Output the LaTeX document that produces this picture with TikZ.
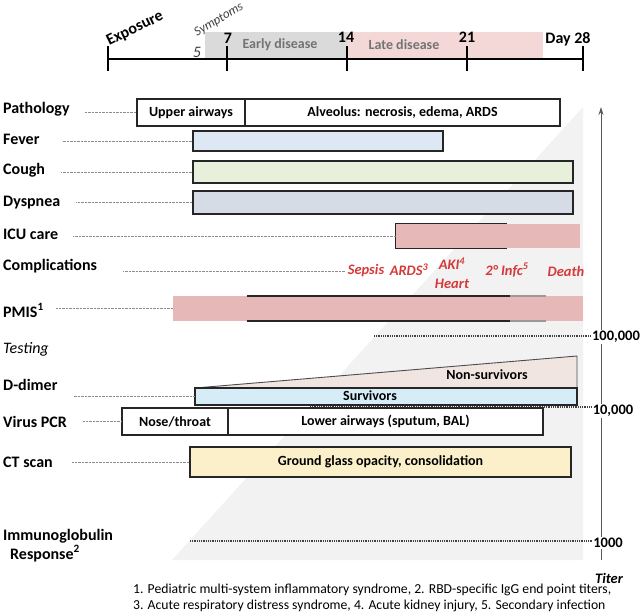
\documentclass[tikz,border=0pt]{standalone}
\usepackage{fontspec}
\setmainfont{Carlito}
\usetikzlibrary{arrows.meta}
\definecolor{bggray}{HTML}{F2F2F2}
\definecolor{bandgray}{HTML}{DADADA}
\definecolor{bandpink}{HTML}{F4D8D8}
\definecolor{feverblue}{HTML}{DEE7F4}
\definecolor{coughgreen}{HTML}{E8F0DC}
\definecolor{dysgray}{HTML}{D6DCE5}
\definecolor{icupink}{HTML}{E6B9B8}
\definecolor{compred}{HTML}{D53A3A}
\definecolor{nspink}{HTML}{F0E5E1}
\definecolor{survblue}{HTML}{D6EDF8}
\definecolor{ctyellow}{HTML}{FCF0CB}
\begin{document}
\begin{tikzpicture}[x=1pt,y=-1pt,
	lbl/.style={anchor=base west,inner sep=0pt,font=\fontsize{16}{19}\selectfont\bfseries},
	bar/.style={draw=black!85,line width=1.2pt,inner sep=0pt,font=\fontsize{14}{17}\selectfont\bfseries},
	lead/.style={draw=black!45,line width=0.6pt,dash pattern=on 0.6pt off 0.8pt,shorten <=16pt},
	level/.style={draw=black!75,line width=1.1pt,dash pattern=on 0.9pt off 0.9pt},
	comp/.style={text=compred,inner sep=0pt,font=\fontsize{14.5}{17}\selectfont\bfseries\itshape},
	day/.style={inner sep=0pt,font=\fontsize{16}{19}\selectfont\bfseries},
	phase/.style={text=black!55,inner sep=0pt,font=\fontsize{14}{17}\selectfont\bfseries},
	titer/.style={fill=white,inner sep=1pt,font=\fontsize{14.5}{17}\selectfont\bfseries},
	note/.style={anchor=base west,inner sep=0pt,font=\fontsize{13.7}{16}\selectfont}]
	\useasboundingbox (0,0) rectangle (642,614);
	% background wedge and phase bands
	\fill[bggray] (172,560) -- (583,107) -- (583,560) -- cycle;
	\fill[bandgray] (205,32) rectangle (347,58);
	\fill[bandpink] (347,32) rectangle (543,58);
	% timeline
	\draw[line width=1.8pt] (108,59) -- (583,59);
	\foreach \x in {108,227,347,467,583}
		\draw[line width=1.4pt] (\x,46) -- (\x,71);
	\node[rotate=26,inner sep=0pt,font=\fontsize{16}{19}\selectfont\bfseries] at (135,29) (expo) {Exposure};
	\node[rotate=31,inner sep=0pt,text=black!75,font=\fontsize{13}{15}\selectfont\itshape] at (219,20) (sympt) {Symptoms};
	\node[inner sep=0pt,text=black!75,font=\fontsize{16}{19}\selectfont\itshape] at (197,52) (d5) {5};
	\node[day] at (228,38) (d7) {7};
	\node[day] at (346,37) (d14) {14};
	\node[day] at (467,37) (d21) {21};
	\node[day] at (568,39) (d28) {Day 28};
	\node[phase] at (280,45) (early) {Early disease};
	\node[phase] at (404,45) (late) {Late disease};
	% titer axis and levels
	\coordinate (axbot) at (601,560);
	\coordinate (axtop) at (601,107);
	\draw[black!65,line width=0.9pt,-{Stealth[length=8pt,width=5pt]}] (axbot) -- (axtop);
	\node[titer] at (616,337) (t100k) {100,000};
	\node[titer] at (613,411) (t10k) {10,000};
	\node[titer] at (608,543) (t1k) {1000};
	\node[titer,font=\fontsize{14.5}{17}\selectfont\bfseries\itshape] at (609,578) (titer) {Titer};
	\coordinate (l100k) at (374,336);
	\coordinate (l10k) at (310,407);
	\coordinate (l1k) at (190,541);
	\draw[level] (l100k) -- (l100k -| t100k.west);
	\draw[level] (l10k) -- (l10k -| t10k.west);
	\draw[level] (l1k) -- (l1k -| t1k.west);
	% pathology
	\node[lbl] at (3,113) (patho) {Pathology};
	\node[bar,minimum width=108,minimum height=27] at (191,112.5) (upper) {Upper airways};
	\node[bar,minimum width=315,minimum height=27] at (402.5,112.5) (alveo) {Alveolus: necrosis, edema, ARDS};
	\draw[lead,shorten <=15pt] (patho.east |- upper.west) -- (upper.west);
	% symptoms
	\node[lbl] at (3,144) (fever) {Fever};
	\node[bar,fill=feverblue,minimum width=250,minimum height=20] at (318,141) (feverbar) {};
	\draw[lead,shorten <=23pt] (fever.east |- feverbar.west) -- (feverbar.west);
	\node[lbl] at (3,174) (cough) {Cough};
	\node[bar,fill=coughgreen,minimum width=380,minimum height=22] at (383,172) (coughbar) {};
	\draw[lead] (cough.east |- coughbar.west) -- (coughbar.west);
	\node[lbl] at (3,206) (dysp) {Dyspnea};
	\node[bar,fill=dysgray,minimum width=380,minimum height=23] at (383,202.5) (dyspbar) {};
	\draw[lead] (dysp.east |- dyspbar.west) -- (dyspbar.west);
	% ICU
	\node[lbl] at (3,239) (icu) {ICU care};
	\node[fill=icupink,inner sep=0pt,minimum width=184,minimum height=24] at (488,236) (icubar) {};
	\draw[black!85,line width=1.2pt] ([xshift=111pt]icubar.north west) -- (icubar.north west)
		-- (icubar.south west) -- ([xshift=111pt]icubar.south west);
	\draw[lead,shorten <=15pt] (icu.east |- icubar.west) -- (icubar.west);
	% complications
	\node[lbl] at (3,270) (compl) {Complications};
	\node[comp] at (366,271) (sepsis) {Sepsis};
	\node[comp] at (409,270) (ards) {ARDS\textsuperscript{3}};
	\node[comp] at (452,264) (aki) {AKI\textsuperscript{4}};
	\node[comp] at (452,284) (heart) {Heart};
	\node[comp] at (507,270) (infc) {2° Infc\textsuperscript{5}};
	\node[comp] at (566,271) (death) {Death};
	\draw[lead,shorten <=26pt,shorten >=3pt] (compl.east |- sepsis.west) -- (sepsis.west);
	% PMIS
	\node[lbl] at (3,317) (pmis) {PMIS\textsuperscript{1}};
	\node[fill=icupink,inner sep=0pt,minimum width=410,minimum height=25] at (378,308.5) (pmisbar) {};
	\draw[black!85,line width=1.2pt] (247,296) -- (510,296) (247,321) -- (510,321);
	\draw[black!40,line width=1.2pt] (510,296) -- (546,296) (510,321) -- (546,321);
	\draw[lead,shorten <=12pt] (pmis.east |- pmisbar.west) -- (pmisbar.west);
	% testing
	\node[lbl,font=\fontsize{16}{19}\selectfont\itshape] at (3,353) (testing) {Testing};
	\node[lbl] at (3,390) (ddimer) {D-dimer};
	\filldraw[fill=nspink,draw=black!70,line width=0.9pt] (195,388) -- (577,356) -- (577,388);
	\node[inner sep=0pt,font=\fontsize{14}{17}\selectfont\bfseries] at (487,375) (nonsurv) {Non-survivors};
	\node[bar,fill=survblue,minimum width=382,minimum height=17] at (386,396.5) (survbar) {};
	\node[inner sep=0pt,font=\fontsize{14}{17}\selectfont\bfseries] at (370,396) (surv) {Survivors};
	\draw[lead] (ddimer.east |- survbar.west) -- (survbar.west);
	\node[lbl] at (3,427) (pcr) {Virus PCR};
	\node[bar,fill=white,minimum width=106,minimum height=27] at (175,421.5) (nose) {Nose/throat};
	\node[bar,fill=white,minimum width=315,minimum height=27] at (385.5,421.5) (lower) {Lower airways (sputum, BAL)};
	\draw[lead] (pcr.east |- nose.west) -- (nose.west);
	\node[lbl] at (3,467) (ct) {CT scan};
	\node[bar,fill=ctyellow,minimum width=381,minimum height=30] at (380.5,462) (ctbar) {Ground glass opacity, consolidation};
	\draw[lead,shorten <=19pt] (ct.east |- ctbar.west) -- (ctbar.west);
	\node[lbl] at (3,540) (immuno) {Immunoglobulin};
	\node[lbl] at (10,559) (resp) {Response\textsuperscript{2}};
	% footnotes
	\node[note] at (133,593) (note1) {1. Pediatric multi-system inflammatory syndrome, 2. RBD-specific IgG end point titers,};
	\node[note] at (133,609) (note2) {3. Acute respiratory distress syndrome, 4. Acute kidney injury, 5. Secondary infection};
\end{tikzpicture}
\end{document}
